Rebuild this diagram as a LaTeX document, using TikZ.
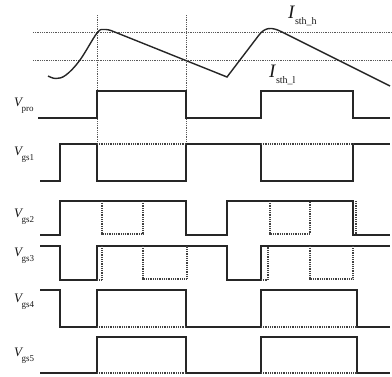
\documentclass[tikz,border=0pt]{standalone}
\usepackage{fontspec}
\setmainfont{Liberation Serif}
\usepackage{xcolor}
\usepackage{tikz}
\usetikzlibrary{calc}
\newcommand{\vlab}[1]{{\itshape V}\kern-0.5pt\raisebox{-5pt}{\small #1}}
\newcommand{\ilab}[1]{{\itshape I}\kern0.5pt\raisebox{-6pt}{\normalsize #1}}
\tikzset{
  wave/.style={draw=black!85, line width=1.4pt, line join=miter},
  ghost/.style={draw=black!75, line width=1.1pt, dash pattern=on 0.9pt off 0.9pt},
  guide/.style={draw=black!65, line width=1.0pt, dash pattern=on 0.9pt off 0.9pt},
  sigtext/.style={anchor=base west, inner sep=0pt, font=\fontsize{13}{13}\selectfont, text=black!90},
}

\begin{document}
\begin{tikzpicture}[
    x=1pt, y=-1pt,
    curve/.style={draw=black!85, line width=1.4pt},
    thrtext/.style={anchor=base west, inner sep=0pt,
      font=\fontsize{19}{19}\selectfont, text=black!90}
  ]
  \useasboundingbox (0,0) rectangle (392,376);

  % ============ Thresholds and guides ============
  \draw[guide] (33,32) -- (392,32);
  \draw[guide] (33,60) -- (392,60);
  \draw[guide] (97,15) -- (97,146);
  \draw[guide] (186,15) -- (186,146);

  % ============ Current ============
  \draw[curve] plot[smooth, tension=0.6] coordinates
      {(48,76) (56,78.5) (66,75) (80,60) (97,33) (104,29.5) (111,30.5)}
    -- (227,77) -- (259,35)
    .. controls (265,27) and (272,27) .. (281,31.5) -- (390,86);
  \node[thrtext] (ih) at (288,18) {\ilab{sth\_h}};
  \node[thrtext] (il) at (269,77) {\ilab{sth\_l}};

  % ============ V_pro ============
  \node[sigtext] (vpro) at (14,106) {\vlab{pro}};
  \draw[wave] (38,118) -- (97,118) -- (97,91) -- (186,91) -- (186,118)
    -- (261,118) -- (261,91) -- (353,91) -- (353,118) -- (390,118);

  % ============ V_gs1 ============
  \node[sigtext] (vgs1) at (14,155) {\vlab{gs1}};
  \draw[wave] (40,181) -- (60,181) -- (60,144) -- (97,144) -- (97,181)
    -- (186,181) -- (186,144) -- (261,144) -- (261,181) -- (353,181)
    -- (353,144) -- (390,144);
  \draw[ghost] (97,144) -- (186,144);
  \draw[ghost] (261,144) -- (353,144);

  % ============ V_gs2 ============
  \node[sigtext] (vgs2) at (14,217) {\vlab{gs2}};
  \draw[wave] (40,235) -- (60,235) -- (60,201) -- (186,201) -- (186,235)
    -- (227,235) -- (227,201) -- (353,201) -- (353,235) -- (390,235);
  \draw[ghost] (102,201) -- (102,234) -- (143,234) -- (143,201);
  \draw[ghost] (270,201) -- (270,234) -- (310,234) -- (310,201);
  \draw[ghost] (356,201) -- (356,235);

  % ============ V_gs3 ============
  \node[sigtext] (vgs3) at (14,256) {\vlab{gs3}};
  \draw[wave] (40,246) -- (60,246) -- (60,280) -- (97,280) -- (97,246)
    -- (227,246) -- (227,280) -- (261,280) -- (261,246) -- (390,246);
  \draw[ghost] (97,280) -- (102,280) -- (102,246);
  \draw[ghost] (143,246) -- (143,279) -- (187,279) -- (187,246);
  \draw[ghost] (261,280) -- (268,280) -- (268,246);
  \draw[ghost] (310,246) -- (310,279) -- (353,279) -- (353,246);

  % ============ V_gs4 ============
  \node[sigtext] (vgs4) at (14,302) {\vlab{gs4}};
  \draw[wave] (40,290) -- (60,290) -- (60,327) -- (97,327) -- (97,290)
    -- (186,290) -- (186,327) -- (261,327) -- (261,290) -- (357,290)
    -- (357,327) -- (390,327);
  \draw[ghost] (97,327) -- (186,327);
  \draw[ghost] (261,327) -- (357,327);

  % ============ V_gs5 ============
  \node[sigtext] (vgs5) at (14,356) {\vlab{gs5}};
  \draw[wave] (40,373) -- (97,373) -- (97,337) -- (186,337) -- (186,373)
    -- (261,373) -- (261,337) -- (357,337) -- (357,373) -- (390,373);
  \draw[ghost] (97,373) -- (186,373);
  \draw[ghost] (261,373) -- (357,373);

\end{tikzpicture}
\end{document}
